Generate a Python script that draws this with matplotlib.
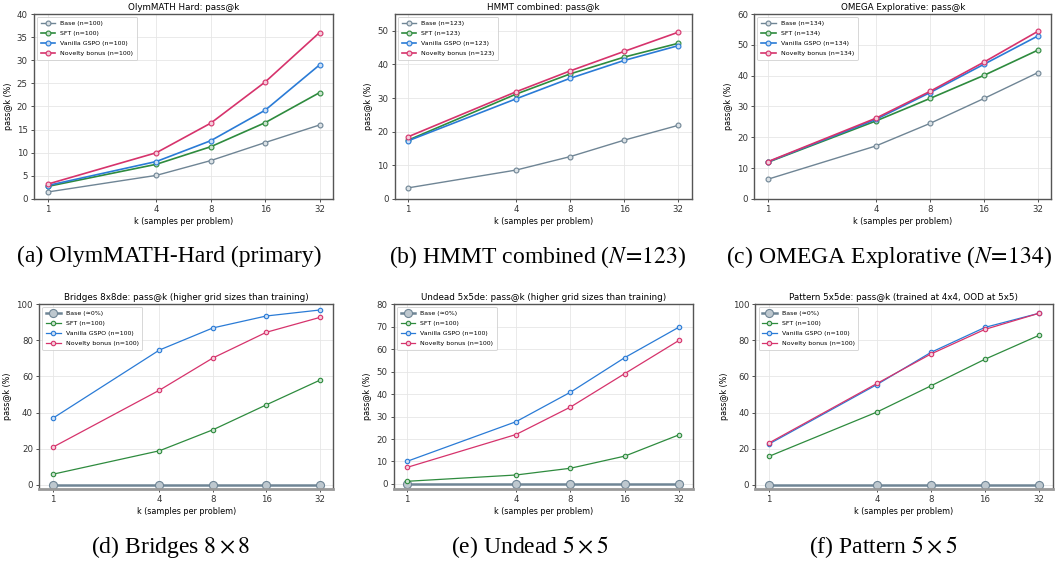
import matplotlib
matplotlib.use('Agg')
import matplotlib.pyplot as plt
import matplotlib.ticker as mticker
from matplotlib.colors import to_rgb

ks = [1, 4, 8, 16, 32]

# top row: math benchmarks
olym_base = [1.5, 5.1, 8.3, 12.2, 16.0]
olym_sft = [2.7, 7.5, 11.3, 16.5, 23.0]
olym_gspo = [2.9, 8.1, 12.6, 19.2, 29.0]
olym_novelty = [3.2, 10.0, 16.4, 25.3, 36.0]

hmmt_base = [3.3, 8.6, 12.6, 17.5, 21.9]
hmmt_sft = [17.5, 31.2, 37.2, 42.2, 46.3]
hmmt_gspo = [17.3, 29.8, 35.9, 41.2, 45.6]
hmmt_novelty = [18.5, 31.9, 38.1, 43.9, 49.6]

omega_base = [6.4, 17.2, 24.5, 32.6, 41.0]
omega_sft = [11.9, 25.3, 32.6, 40.1, 48.3]
omega_gspo = [12.0, 25.8, 34.5, 43.7, 52.9]
omega_novelty = [12.1, 26.2, 34.9, 44.4, 54.4]

# bottom row: puzzles
bridges_base = [0, 0, 0, 0, 0]
bridges_sft = [5.9, 18.9, 30.5, 44.3, 57.9]
bridges_gspo = [36.8, 74.6, 86.8, 93.4, 96.7]
bridges_novelty = [20.8, 52.4, 70.2, 84.4, 92.6]

undead_base = [0, 0, 0, 0, 0]
undead_sft = [1.2, 4.0, 7.0, 12.4, 21.9]
undead_gspo = [10.1, 27.7, 40.8, 56.2, 69.8]
undead_novelty = [7.4, 22.0, 34.2, 49.1, 63.9]

pattern_base = [0, 0, 0, 0, 0]
pattern_sft = [15.8, 40.3, 54.8, 69.5, 82.7]
pattern_gspo = [22.6, 55.5, 73.3, 87.1, 94.9]
pattern_novelty = [23.2, 56.1, 72.4, 86.0, 94.9]

colours = {'Base': '#6f8595', 'SFT': '#2e8b3e', 'GSPO': '#2a7bd6', 'Novelty': '#d6336c'}


def light(c, f=0.75):
    r, g, b = to_rgb(c)
    return (r + (1 - r) * f, g + (1 - g) * f, b + (1 - b) * f)


panels = [
    dict(pos=[0.032, 0.646, 0.282, 0.329], title='OlymMATH Hard: pass@k', n='n=100',
         data=(olym_base, olym_sft, olym_gspo, olym_novelty), ylim=(0, 40), puzzle=False,
         caption='(a) OlymMATH-Hard (primary)', cx=169),
    dict(pos=[0.372, 0.646, 0.280, 0.329], title='HMMT combined: pass@k', n='n=123',
         data=(hmmt_base, hmmt_sft, hmmt_gspo, hmmt_novelty), ylim=(0, 55), puzzle=False,
         caption='(b) HMMT combined ($N\\!=\\!123$)', cx=538),
    dict(pos=[0.711, 0.646, 0.280, 0.329], title='OMEGA Explorative: pass@k', n='n=134',
         data=(omega_base, omega_sft, omega_gspo, omega_novelty), ylim=(0, 60), puzzle=False,
         caption='(c) OMEGA Explorative ($N\\!=\\!134$)', cx=889),
    dict(pos=[0.037, 0.130, 0.277, 0.329], title='Bridges 8x8de: pass@k (higher grid sizes than training)',
         n='n=100', data=(bridges_base, bridges_sft, bridges_gspo, bridges_novelty), ylim=(-2.2, 100),
         puzzle=True, caption=r'(d) Bridges $8\times8$', cx=171),
    dict(pos=[0.371, 0.130, 0.282, 0.329], title='Undead 5x5de: pass@k (higher grid sizes than training)',
         n='n=100', data=(undead_base, undead_sft, undead_gspo, undead_novelty), ylim=(-2.2, 80),
         puzzle=True, caption=r'(e) Undead $5\times5$', cx=530),
    dict(pos=[0.712, 0.130, 0.280, 0.329], title='Pattern 5x5de: pass@k (trained at 4x4, OOD at 5x5)',
         n='n=100', data=(pattern_base, pattern_sft, pattern_gspo, pattern_novelty), ylim=(-2.2, 100),
         puzzle=True, caption=r'(f) Pattern $5\times5$', cx=883),
]

plt.rcParams['mathtext.fontset'] = 'stix'
fig = plt.figure(figsize=(10.61, 5.62), dpi=100)

for p in panels:
    ax = fig.add_axes(p['pos'])
    base, sft, gspo, nov = p['data']
    if p['puzzle']:
        ax.plot(ks, base, '-o', color=colours['Base'], lw=1.8, ms=5.8,
                mfc=light(colours['Base'], 0.55), mec=colours['Base'], mew=0.8, label='Base (≈0%)')
        lw, ms = 0.9, 3.2
    else:
        ax.plot(ks, base, '-o', color=colours['Base'], lw=1.0, ms=3.5,
                mfc=light(colours['Base']), mew=0.8, label=f"Base ({p['n']})")
        lw, ms = 1.2, 3.5
    ax.plot(ks, sft, '-o', color=colours['SFT'], lw=lw, ms=ms, mfc=light(colours['SFT']), mew=0.8,
            label=f"SFT ({p['n']})")
    ax.plot(ks, gspo, '-o', color=colours['GSPO'], lw=lw, ms=ms, mfc=light(colours['GSPO']), mew=0.8,
            label=f"Vanilla GSPO ({p['n']})")
    ax.plot(ks, nov, '-o', color=colours['Novelty'], lw=lw, ms=ms, mfc=light(colours['Novelty']), mew=0.8,
            label=f"Novelty bonus ({p['n']})")

    ax.set_xscale('log', base=2)
    ax.set_xticks(ks)
    ax.xaxis.set_major_formatter(mticker.FixedFormatter([str(k) for k in ks]))
    ax.xaxis.set_minor_locator(mticker.NullLocator())
    ax.set_ylim(*p['ylim'])
    ax.grid(True, color='#e6e6e6', lw=0.6)
    ax.set_axisbelow(True)
    ax.tick_params(labelsize=6.2, length=2.5, width=0.6, colors='#333333', pad=2)
    for s in ax.spines.values():
        s.set_color('#555555')
        s.set_linewidth(1.0)
    if p['puzzle']:
        ax.spines['bottom'].set_color('#999999')
        ax.spines['bottom'].set_linewidth(2.0)
    ax.set_title(p['title'], fontsize=6.3, pad=3)
    ax.set_xlabel('k (samples per problem)', fontsize=5.8, labelpad=2)
    ax.set_ylabel('pass@k (%)', fontsize=5.8, labelpad=3)
    leg = ax.legend(loc='upper left', fontsize=4.5, handlelength=2.3, borderpad=0.6,
                    labelspacing=0.75, framealpha=0.9)
    leg.get_frame().set_linewidth(0.6)

    fig.text(p['cx'] / 1061, p['pos'][1] - 0.103,
             p['caption'], ha='center', va='center', fontsize=17, family='Liberation Serif')

fig.savefig('out.png', dpi=100)
